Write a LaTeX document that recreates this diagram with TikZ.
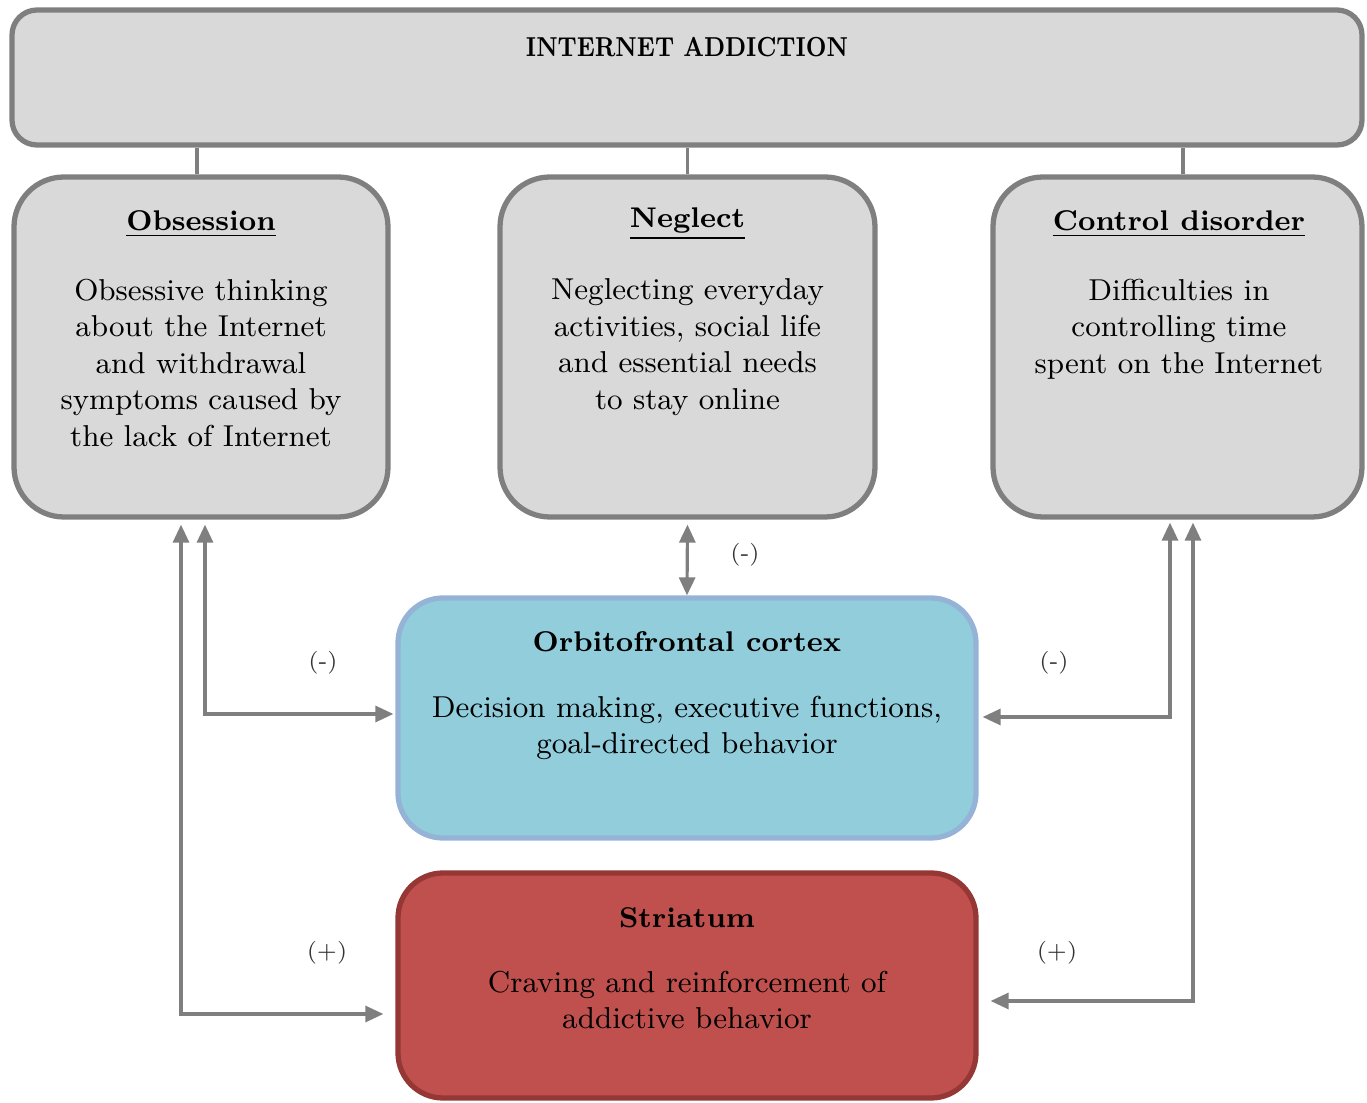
\documentclass[tikz,border=0pt]{standalone}
\usepackage{tikz}
\usetikzlibrary{arrows.meta,calc}
\definecolor{boxgray}{HTML}{D9D9D9}
\definecolor{edgegray}{HTML}{7F7F7F}
\definecolor{ofcfill}{HTML}{92CDDC}
\definecolor{ofcedge}{HTML}{95B3D7}
\definecolor{strfill}{HTML}{C0504D}
\definecolor{stredge}{HTML}{953735}
\tikzset{
  topbox/.style={draw=edgegray, fill=boxgray, line width=1.5pt, rounded corners=0.25cm,
    minimum width=13.5cm, minimum height=1.35cm},
  graybox/.style={draw=edgegray, fill=boxgray, line width=1.5pt, rounded corners=0.5cm,
    minimum width=3.74cm, minimum height=3.4cm},
  ofcbox/.style={draw=ofcedge, fill=ofcfill, line width=1.5pt, rounded corners=0.45cm,
    minimum width=5.78cm, minimum height=2.4cm},
  strbox/.style={draw=stredge, fill=strfill, line width=1.5pt, rounded corners=0.45cm,
    minimum width=5.78cm, minimum height=2.25cm},
  boxtitle/.style={font=\fontsize{8.1}{10}\selectfont\bfseries, inner sep=0pt},
  boxtext/.style={font=\fontsize{8.6}{10.4}\selectfont, align=center, inner sep=0pt, anchor=north},
  link/.style={draw=edgegray, line width=0.9pt},
  conn/.style={draw=edgegray, line width=0.9pt, {Triangle[length=0.18cm,width=0.16cm]}-{Triangle[length=0.18cm,width=0.16cm]}},
  sign/.style={font=\fontsize{6.5}{7}\selectfont, text=black!80}
}

\begin{document}
\begin{tikzpicture}
    \useasboundingbox (0,0) rectangle (13.67,-11.03);
    % boxes
    \node[topbox] (top) at (6.87,-0.775) {};
    \node[inner sep=0pt, font=\fontsize{7.8}{10}\selectfont\bfseries, xscale=0.82, transform shape] (toptitle) at (6.87,-0.47) {INTERNET ADDICTION};

    \node[graybox] (obs) at (2.01,-3.47) {};
    \node[graybox, minimum width=3.75cm] (neg) at (6.875,-3.47) {};
    \node[graybox, minimum width=3.69cm] (ctrl) at (11.775,-3.47) {};
    \node[ofcbox] (ofc) at (6.87,-7.18) {};
    \node[strbox] (str) at (6.87,-9.855) {};

    % texts
    \node[boxtitle] (obstitle) at (2.01,-2.24) {\underline{Obsession}};
    \node[boxtext] (obstext) at (2.01,-2.78) {Obsessive thinking\\about the Internet\\and withdrawal\\symptoms caused by\\the lack of Internet};
    \node[boxtitle] (negtitle) at (6.875,-2.24) {\underline{Neglect}};
    \node[boxtext] (negtext) at (6.875,-2.78) {Neglecting everyday\\activities, social life\\and essential needs\\to stay online};
    \node[boxtitle] (ctrltitle) at (11.79,-2.24) {\underline{Control disorder}};
    \node[boxtext] (ctrltext) at (11.79,-2.78) {Difficulties in\\controlling time\\spent on the Internet};
    \node[boxtitle] (ofctitle) at (6.87,-6.42) {Orbitofrontal cortex};
    \node[boxtext] (ofctext) at (6.87,-6.95) {Decision making, executive functions,\\goal-directed behavior};
    \node[boxtitle] (strtitle) at (6.87,-9.18) {Striatum};
    \node[boxtext] (strtext) at (6.87,-9.70) {Craving and reinforcement of\\addictive behavior};

    % links to the top box
    \draw[link] (top.south -| 1.97,0) -- (obs.north -| 1.97,0);
    \draw[link] (top.south -| neg.north) -- (neg.north);
    \draw[link] (top.south -| 11.83,0) -- (ctrl.north -| 11.83,0);

    % arrows
    \draw[conn] ([yshift=-0.5mm]neg.south) -- (ofc.north);
    \draw[conn] ([xshift=0.4mm,yshift=-0.5mm]obs.south) |- ([xshift=-0.2mm,yshift=0.4mm]ofc.west);
    \draw[conn] ([xshift=-2mm,yshift=-0.5mm]obs.south) |- ([xshift=-1.2mm,yshift=-2.85mm]str.west);
    \draw[conn] ([xshift=-0.75mm,yshift=-0.3mm]ctrl.south) |- ([xshift=0.4mm,yshift=0.1mm]ofc.east);
    \draw[conn] ([xshift=1.55mm,yshift=-0.3mm]ctrl.south) |- ([xshift=1.2mm,yshift=-1.55mm]str.east);

    % signs
    \node[sign] (s1) at (7.45,-5.55) {(-)};
    \node[sign] (s2) at (3.23,-6.63) {(-)};
    \node[sign] (s3) at (3.27,-9.53) {(+)};
    \node[sign] (s4) at (10.54,-6.63) {(-)};
    \node[sign] (s5) at (10.57,-9.53) {(+)};
\end{tikzpicture}
\end{document}
